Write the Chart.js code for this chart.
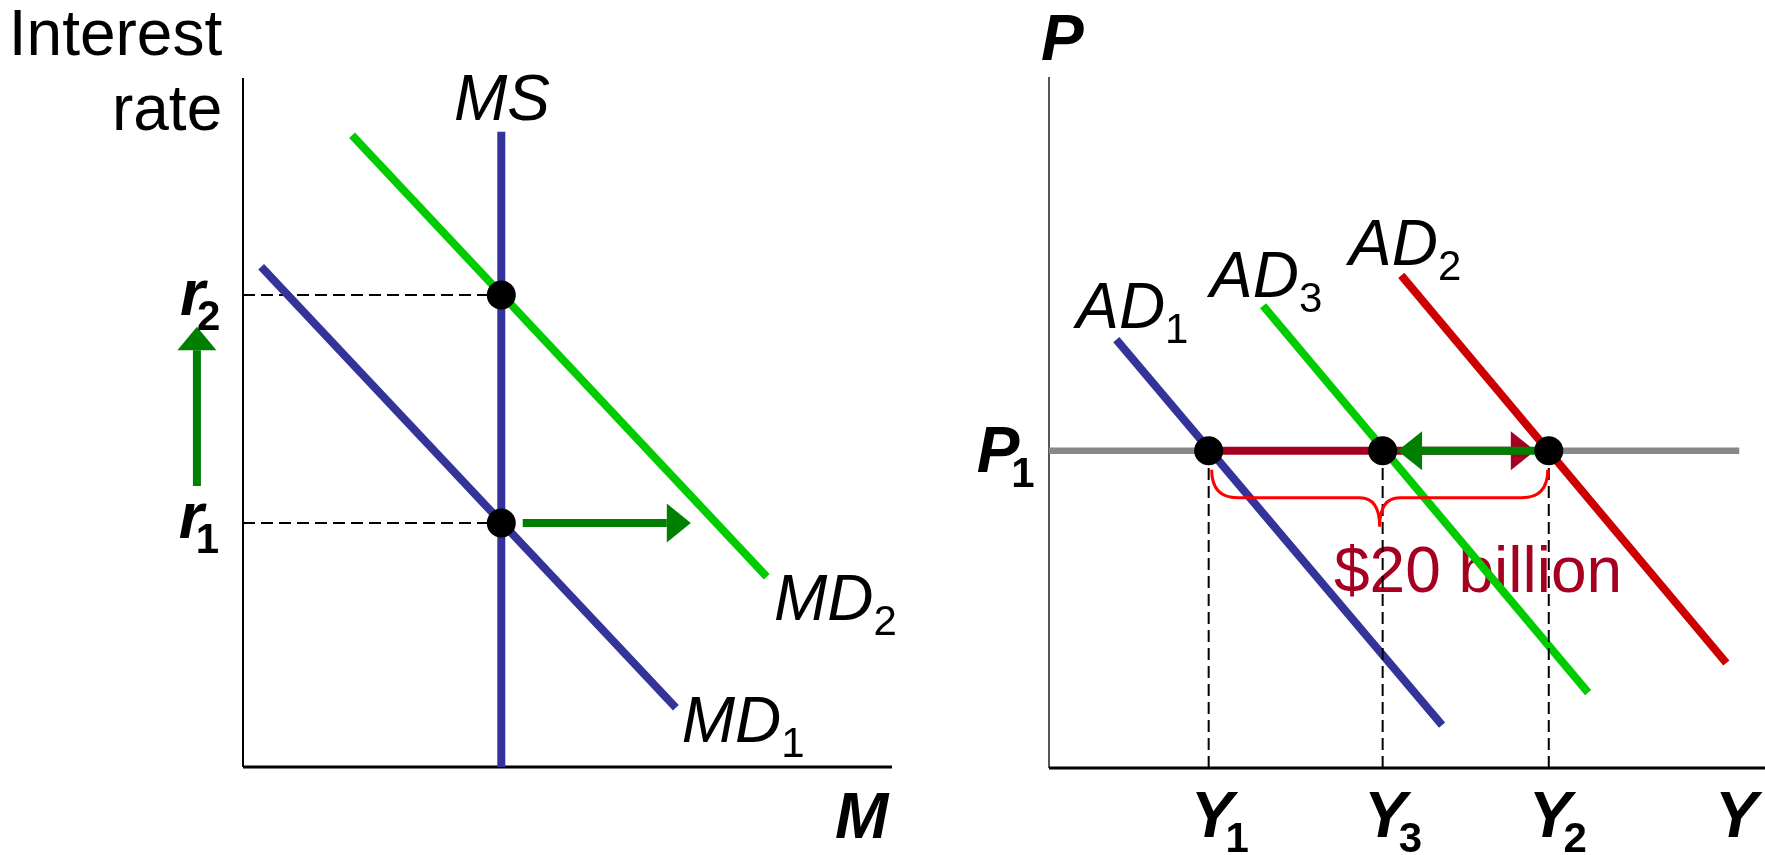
<!DOCTYPE html>
<html>
<head>
<meta charset="utf-8">
<title>Money market and aggregate demand</title>
<script src="https://cdn.jsdelivr.net/npm/chart.js@4.4.1/dist/chart.umd.min.js"></script>
<style>
    html, body { margin: 0; padding: 0; background: #ffffff; }
    #wrap { position: relative; width: 1765px; height: 855px; }
    #moneyChart { position: absolute; left: 0; top: 0; }
    #adChart { position: absolute; left: 900px; top: 0; }
</style>
</head>
<body>
<div id="wrap">
    <canvas id="moneyChart" width="900" height="855"></canvas>
    <canvas id="adChart" width="865" height="855"></canvas>
</div>
<script>
// ---- left panel: money market (both axes run 0..100) ----
const msQuantity = 39.8;
const msTop = 92.2;
const rateLevels = [35.4, 68.5];          // r1, r2
const md1X = [2.8, 66.7];
const md1Y = [72.6, 8.6];
const md2X = [16.8, 80.7];
const md2Y = [91.7, 27.6];
const demandShiftArrow = [43.1, 65.3, 69.0]; // start, head base, tip
const rateRiseArrow = [40.8, 60.5, 63.9];
const rateArrowX = -7.1;

// ---- right panel: aggregate demand ----
const priceLevel = 45.9;                   // P1
const outputLevels = [22.3, 46.6, 69.8];   // Y1, Y3, Y2
const ad1X = [9.4, 54.9];
const ad1Y = [62.0, 6.2];
const ad3X = [29.9, 75.3];
const ad3Y = [66.9, 10.9];
const ad2X = [49.2, 94.6];
const ad2Y = [71.3, 15.2];
const priceLineEnd = 96.4;
const multiplierArrow = [22.3, 64.5, 67.9];
const crowdingArrow = [69.8, 52.1, 48.7];

const FONT = '"Liberation Sans", Arial, "DejaVu Sans", sans-serif';
const BLUE = '#333399';
const LIGHT_GREEN = '#00CC00';
const RED = '#CC0000';
const DARK_GREEN = '#008000';
const WINE = '#A50021';

function seg(xs, ys) {
    return xs.map((v, i) => ({ x: v, y: ys[i] }));
}

function line(points, color, width, extra) {
    return Object.assign({
        data: points,
        showLine: true,
        borderColor: color,
        backgroundColor: color,
        borderWidth: width,
        pointRadius: 0,
        borderCapStyle: 'butt',
        clip: false
    }, extra || {});
}

function dashed(points) {
    return line(points, '#000000', 2, { borderDash: [12, 6] });
}

function dots(points) {
    return {
        data: points,
        showLine: false,
        pointRadius: 14.5,
        pointBackgroundColor: '#000000',
        pointBorderWidth: 0,
        clip: false
    };
}

function arrow(points, color) {
    // shaft runs to the head base, the head itself is painted by the plugin
    const ds = line(points.slice(0, 2), color, 8);
    ds.arrowHead = { base: points[1], tip: points[2], half: 19.5 };
    return ds;
}

function drawHead(chart, ds) {
    const ctx = chart.ctx;
    const sx = chart.scales.x, sy = chart.scales.y;
    const bx = sx.getPixelForValue(ds.arrowHead.base.x), by = sy.getPixelForValue(ds.arrowHead.base.y);
    const tx = sx.getPixelForValue(ds.arrowHead.tip.x), ty = sy.getPixelForValue(ds.arrowHead.tip.y);
    const ang = Math.atan2(ty - by, tx - bx);
    const nx = -Math.sin(ang) * ds.arrowHead.half;
    const ny = Math.cos(ang) * ds.arrowHead.half;
    ctx.save();
    ctx.fillStyle = ds.borderColor;
    ctx.beginPath();
    ctx.moveTo(tx, ty);
    ctx.lineTo(bx + nx, by + ny);
    ctx.lineTo(bx - nx, by - ny);
    ctx.closePath();
    ctx.fill();
    ctx.restore();
}

function paintLabels(chart, labels, layer) {
    const ctx = chart.ctx;
    const sx = chart.scales.x, sy = chart.scales.y;
    ctx.save();
    ctx.textBaseline = 'alphabetic';
    labels.filter(l => (l.layer || 'above') === layer).forEach(l => {
        const px = sx.getPixelForValue(l.x);
        const py = sy.getPixelForValue(l.y);
        const weight = l.bold ? 'bold ' : '';
        const slant = l.italic ? 'italic ' : '';
        ctx.font = slant + weight + (l.size || 64) + 'px ' + FONT;
        ctx.fillStyle = l.color || '#000000';
        ctx.textAlign = l.align || 'left';
        ctx.fillText(l.text, px, py);
        if (l.sub) {
            const w = ctx.measureText(l.text).width;
            ctx.font = weight + '42px ' + FONT;
            ctx.textAlign = 'left';
            ctx.fillText(l.sub, px + w + (l.bold ? -8 : 0), py + 15);
        }
    });
    ctx.restore();
}

// curly brace under P1 spanning Y1..Y2, pointing at Y3
function drawBrace(chart) {
    const ctx = chart.ctx;
    const sx = chart.scales.x, sy = chart.scales.y;
    const left = sx.getPixelForValue(outputLevels[0]) + 3;
    const right = sx.getPixelForValue(outputLevels[2]) - 1;
    const mid = sx.getPixelForValue(outputLevels[1]) - 3;
    const base = sy.getPixelForValue(priceLevel);
    const top = base + 19, bar = base + 47, tip = base + 76;
    ctx.save();
    ctx.strokeStyle = '#FF0000';
    ctx.lineWidth = 3;
    ctx.beginPath();
    ctx.moveTo(left, top);
    ctx.quadraticCurveTo(left, bar, left + 26, bar);
    ctx.lineTo(mid - 20, bar);
    ctx.quadraticCurveTo(mid, bar, mid, tip);
    ctx.moveTo(right, top);
    ctx.quadraticCurveTo(right, bar, right - 26, bar);
    ctx.lineTo(mid + 20, bar);
    ctx.quadraticCurveTo(mid, bar, mid, tip);
    ctx.stroke();
    ctx.restore();
}

function annotations(labels, withBrace) {
    return {
        id: 'annotations',
        beforeDatasetsDraw(chart) {
            paintLabels(chart, labels, 'below');
        },
        afterDatasetDraw(chart, args) {
            const ds = chart.data.datasets[args.index];
            if (ds.arrowHead) drawHead(chart, ds);
        },
        afterDatasetsDraw(chart) {
            if (withBrace) drawBrace(chart);
            paintLabels(chart, labels, 'above');
        }
    };
}

function baseOptions(padding) {
    return {
        responsive: false,
        animation: false,
        devicePixelRatio: 1,
        events: [],
        layout: { padding: padding, autoPadding: false },
        plugins: { legend: { display: false }, tooltip: { enabled: false } },
        scales: {
            x: { type: 'linear', min: 0, max: 100, display: false },
            y: { type: 'linear', min: 0, max: 100, display: false }
        }
    };
}

function renderMoneyChart() {
    const r1 = rateLevels[0], r2 = rateLevels[1];
    // listed bottom layer first; reversed below because Chart.js paints index 0 last
    const layers = [
        line([{ x: 0, y: 0 }, { x: 0, y: 100 }], '#000000', 2),
        line([{ x: 0, y: 0 }, { x: 100, y: 0 }], '#000000', 3),
        dashed([{ x: 0, y: r2 }, { x: msQuantity, y: r2 }]),
        dashed([{ x: 0, y: r1 }, { x: msQuantity, y: r1 }]),
        line(seg(md1X, md1Y), BLUE, 8),
        line(seg(md2X, md2Y), LIGHT_GREEN, 8),
        line([{ x: msQuantity, y: 0 }, { x: msQuantity, y: msTop }], BLUE, 8),
        arrow([{ x: demandShiftArrow[0], y: r1 }, { x: demandShiftArrow[1], y: r1 }, { x: demandShiftArrow[2], y: r1 }], DARK_GREEN),
        arrow([{ x: rateArrowX, y: rateRiseArrow[0] }, { x: rateArrowX, y: rateRiseArrow[1] }, { x: rateArrowX, y: rateRiseArrow[2] }], DARK_GREEN),
        dots([{ x: msQuantity, y: r1 }, { x: msQuantity, y: r2 }])
    ];
    const labels = [
        { text: 'Interest', x: -3.2, y: 103.3, align: 'right' },
        { text: 'rate', x: -3.2, y: 92.5, align: 'right' },
        { text: 'MS', x: 32.5, y: 93.9, italic: true },
        { text: 'MD', sub: '2', x: 81.8, y: 21.3, italic: true },
        { text: 'MD', sub: '1', x: 67.6, y: 3.6, italic: true },
        { text: 'M', x: 91.2, y: -10.3, italic: true, bold: true },
        { text: 'r', sub: '2', x: -9.7, y: 65.6, italic: true, bold: true },
        { text: 'r', sub: '1', x: -9.9, y: 33.2, italic: true, bold: true }
    ];
    new Chart(document.getElementById('moneyChart'), {
        type: 'scatter',
        data: { datasets: layers.reverse() },
        options: baseOptions({ left: 243, right: 8, top: 78, bottom: 88 }),
        plugins: [annotations(labels, false)]
    });
}

function renderAdChart() {
    const p = priceLevel;
    const layers = [
        line([{ x: 0, y: 0 }, { x: 0, y: 100 }], '#555555', 2),
        line([{ x: 0, y: 0 }, { x: 100, y: 0 }], '#000000', 3),
        line([{ x: 0, y: p }, { x: priceLineEnd, y: p }], '#888888', 6.5),
        line(seg(ad1X, ad1Y), BLUE, 8),
        line(seg(ad3X, ad3Y), LIGHT_GREEN, 8),
        line(seg(ad2X, ad2Y), RED, 8),
        dashed([{ x: outputLevels[0], y: 0 }, { x: outputLevels[0], y: p }]),
        dashed([{ x: outputLevels[1], y: 0 }, { x: outputLevels[1], y: p }]),
        dashed([{ x: outputLevels[2], y: 0 }, { x: outputLevels[2], y: p }]),
        arrow([{ x: multiplierArrow[0], y: p }, { x: multiplierArrow[1], y: p }, { x: multiplierArrow[2], y: p }], WINE),
        arrow([{ x: crowdingArrow[0], y: p }, { x: crowdingArrow[1], y: p }, { x: crowdingArrow[2], y: p }], DARK_GREEN),
        dots(outputLevels.map(v => ({ x: v, y: p })))
    ];
    const labels = [
        { text: '$20 billion', x: 39.8, y: 25.5, color: WINE, layer: 'below' },
        { text: 'P', x: -1.1, y: 102.5, italic: true, bold: true },
        { text: 'P', sub: '1', x: -10.1, y: 42.8, italic: true, bold: true },
        { text: 'AD', sub: '1', x: 3.8, y: 63.7, italic: true },
        { text: 'AD', sub: '3', x: 22.5, y: 68.2, italic: true },
        { text: 'AD', sub: '2', x: 41.9, y: 72.8, italic: true },
        { text: 'Y', sub: '1', x: 19.8, y: -10.0, italic: true, bold: true },
        { text: 'Y', sub: '3', x: 44.0, y: -10.0, italic: true, bold: true },
        { text: 'Y', sub: '2', x: 67.0, y: -10.0, italic: true, bold: true },
        { text: 'Y', x: 93.0, y: -10.0, italic: true, bold: true }
    ];
    new Chart(document.getElementById('adChart'), {
        type: 'scatter',
        data: { datasets: layers.reverse() },
        options: baseOptions({ left: 149, right: 0, top: 77, bottom: 87 }),
        plugins: [annotations(labels, true)]
    });
}

renderMoneyChart();
renderAdChart();
</script>
</body>
</html>
